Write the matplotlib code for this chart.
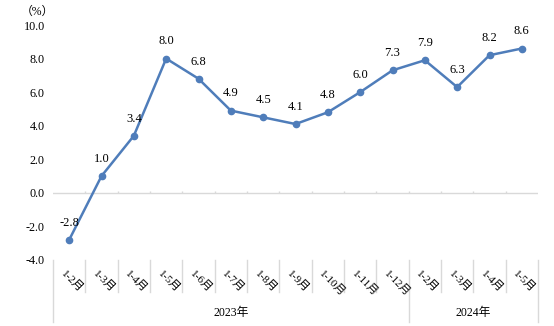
import matplotlib
matplotlib.use("Agg")
import matplotlib.pyplot as plt
import numpy as np

categories = ["1-2月", "1-3月", "1-4月", "1-5月", "1-6月", "1-7月", "1-8月", "1-9月",
              "1-10月", "1-11月", "1-12月", "1-2月", "1-3月", "1-4月", "1-5月"]
values = [-2.8, 1.0, 3.4, 8.0, 6.8, 4.9, 4.5, 4.1, 4.8, 6.0, 7.3, 7.9, 6.3, 8.2, 8.6]
years = ["2023年", "2024年"]
year_counts = [11, 4]
yticks = [-4.0, -2.0, 0.0, 2.0, 4.0, 6.0, 8.0, 10.0]

FONT = ["Liberation Serif", "Noto Sans CJK SC", "DejaVu Sans"]
plt.rcParams['font.family'] = FONT

W, H = 554, 326
fig = plt.figure(figsize=(W / 100, H / 100), dpi=100)
left, right, top, bottom = 53, 538, 25, 260
ax = fig.add_axes([left / W, 1 - bottom / H, (right - left) / W, (bottom - top) / H])

x = np.arange(len(values))
line_color = "#4F7DBA"
grid_color = "#D9D9D9"
ax.plot(x, values, color=line_color, lw=1.8, marker="o", markersize=4.5, zorder=3)
for xi, v in zip(x, values):
    ax.annotate(f"{v:.1f}", (xi, v), xytext=(0, 8), textcoords="offset points",
                ha="center", va="bottom", fontsize=9, family=FONT)

ax.set_xlim(-0.5, len(values) - 0.5)
ax.set_ylim(-4, 10)
for s in ax.spines.values():
    s.set_visible(False)
ax.set_xticks([])
ax.set_yticks(yticks)
ax.set_yticklabels([f"{t:.1f}" for t in yticks], fontsize=8.7)
ax.tick_params(axis="y", length=0, pad=6)

# zero axis line with small ticks
ax.axhline(0, color=grid_color, lw=1, zorder=1)
bounds = np.arange(len(values) + 1) - 0.5
ax.vlines(bounds[1:-1], 0, 0.12, color=grid_color, lw=1, zorder=1)

# category axis separators below plot
xt = ax.get_xaxis_transform()
long_idx = set(np.cumsum([0] + year_counts))
for i, b in enumerate(bounds):
    ybot = -0.265 if i in long_idx else -0.136
    ax.plot([b, b], [0, ybot], color=grid_color, lw=1, transform=xt, clip_on=False)

for i, c in enumerate(categories):
    ax.text(i - 0.2, -0.05, c, transform=xt, rotation=-45, rotation_mode="anchor",
            ha="left", va="center", fontsize=8, family=FONT)

start = 0
for yname, cnt in zip(years, year_counts):
    center = start + cnt / 2 - 0.5
    ax.text(center, -0.225, yname, transform=xt, ha="center", va="center",
            fontsize=8.5, family=FONT)
    start += cnt

fig.text(37 / W, 1 - 12 / H, "（%）", ha="center", va="center", fontsize=8.5, family=FONT)

fig.savefig("out.png", dpi=100, facecolor="white")
